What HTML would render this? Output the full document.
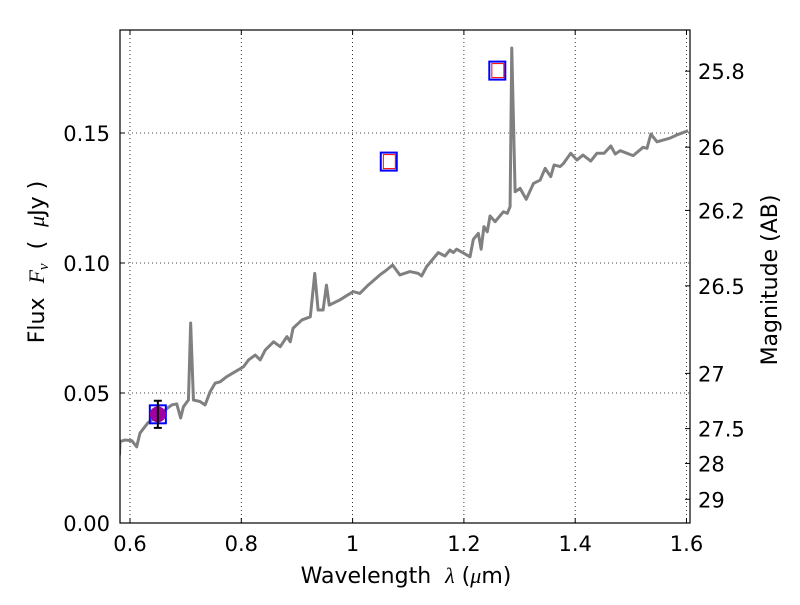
<!DOCTYPE html>
<html><head><meta charset="utf-8"><style>
body{margin:0;background:#fff;}
svg text{font-family:"DejaVu Sans","Liberation Sans",sans-serif;fill:#000;}
</style></head><body>
<svg id="chart" width="800" height="600" xmlns="http://www.w3.org/2000/svg">
<rect width="800" height="600" fill="#fff"/>
<defs><clipPath id="clip"><rect x="120" y="30" width="570" height="493"/></clipPath></defs>
<g id="grid"></g>
<g id="plot" clip-path="url(#clip)"></g>
<g id="axes"></g>
<text x="406" y="583" font-size="22" text-anchor="middle">Wavelength&#160;&#160;<tspan font-family="Liberation Serif" font-style="italic">λ</tspan> (<tspan font-family="Liberation Serif" font-style="italic">μ</tspan>m)</text>
<text transform="translate(44,262) rotate(-90)" font-size="22" text-anchor="middle">Flux&#160;&#160;<tspan font-family="Liberation Serif" font-style="italic">F<tspan font-size="15" dy="4">ν</tspan></tspan><tspan dy="-4">&#160;&#160;(&#160;&#160;</tspan><tspan font-family="Liberation Serif" font-style="italic">μ</tspan>Jy )</text>
<text transform="translate(777,280) rotate(-90)" font-size="22" text-anchor="middle">Magnitude (AB)</text>
</svg>
<script>
const wavelengths=[0.581,0.582,0.591,0.603,0.612,0.618,0.632,0.648,0.663,0.675,0.684,0.691,0.696,0.705,0.709,0.714,0.726,0.735,0.744,0.753,0.762,0.774,0.789,0.804,0.813,0.825,0.834,0.843,0.858,0.870,0.882,0.888,0.893,0.909,0.924,0.932,0.938,0.947,0.953,0.958,0.977,1.001,1.013,1.028,1.049,1.061,1.072,1.085,1.103,1.118,1.124,1.133,1.154,1.166,1.175,1.181,1.187,1.202,1.211,1.217,1.226,1.231,1.236,1.242,1.247,1.256,1.271,1.278,1.283,1.286,1.292,1.301,1.312,1.325,1.337,1.346,1.356,1.362,1.373,1.379,1.392,1.403,1.414,1.428,1.439,1.452,1.464,1.472,1.481,1.504,1.522,1.529,1.536,1.547,1.570,1.582,1.603];
const fluxes=[0.026,0.0313,0.0319,0.0317,0.0293,0.0346,0.0385,0.0409,0.0435,0.0454,0.0458,0.0404,0.0447,0.0473,0.0769,0.0473,0.0467,0.0454,0.0505,0.0538,0.0543,0.0563,0.0582,0.0601,0.0627,0.0646,0.0627,0.0665,0.0697,0.0678,0.0717,0.0697,0.0749,0.0781,0.0793,0.0960,0.0819,0.0819,0.0915,0.0838,0.0858,0.0890,0.0883,0.0915,0.0954,0.0973,0.0992,0.0954,0.0967,0.0960,0.0950,0.0986,0.1040,0.1027,0.1050,0.1040,0.1053,0.1035,0.1024,0.1091,0.1114,0.1053,0.1140,0.1120,0.1181,0.1159,0.1197,0.1191,0.1217,0.1827,0.1274,0.1287,0.1245,0.1306,0.1319,0.1364,0.1332,0.1377,0.1371,0.1383,0.1422,0.1396,0.1415,0.1392,0.1422,0.1422,0.1450,0.1419,0.1432,0.1413,0.1445,0.1441,0.1496,0.1466,0.1480,0.1492,0.1509];
const photLam=[0.65];const photFlux=[0.0418];const photErr=[0.0052];
const sqLam=[0.65,1.065,1.26];const sqFlux=[0.0418,0.139,0.174];
const redLam=[1.066,1.261];const redFlux=[0.139,0.174];
const xTicks=[0.6,0.8,1.0,1.2,1.4,1.6];const xTickLabels=["0.6","0.8","1","1.2","1.4","1.6"];
const yTicks=[0,0.05,0.10,0.15];const yTickLabels=["0.00","0.05","0.10","0.15"];
const magTicks=[25.8,26,26.2,26.5,27,27.5,28,29];const magLabels=["25.8","26","26.2","26.5","27","27.5","28","29"];
const L=120,R=690,T=30,B=523;
const xs=v=>130+(v-0.6)*556.5;
const ys=v=>B-v*2600;
const ns="http://www.w3.org/2000/svg";
function mk(p,t,a){const e=document.createElementNS(ns,t);for(const k in a)e.setAttribute(k,a[k]);p.appendChild(e);return e;}
const grid=document.getElementById('grid'),plot=document.getElementById('plot'),axes=document.getElementById('axes');
xTicks.forEach((v,i)=>{
 const g=mk(grid,'line',{x1:xs(v),x2:xs(v),y1:T,y2:B,stroke:'#000','stroke-width':0.8,'stroke-dasharray':'1,3'});
 
 
 mk(axes,'line',{x1:xs(v),x2:xs(v),y1:B,y2:B-5,stroke:'#000'});
 mk(axes,'line',{x1:xs(v),x2:xs(v),y1:T,y2:T+5,stroke:'#000'});
 const t=mk(axes,'text',{x:xs(v),y:B+28,'font-size':21,'text-anchor':'middle'});t.textContent=xTickLabels[i];
 
 
});
yTicks.forEach((v,i)=>{
 if(v>0){const g=mk(grid,'line',{x1:L,x2:R,y1:ys(v),y2:ys(v),stroke:'#000','stroke-width':0.8,'stroke-dasharray':'1,3'});
 
 }
 mk(axes,'line',{x1:L,x2:L+5,y1:ys(v),y2:ys(v),stroke:'#000'});
 const t=mk(axes,'text',{x:L-10,y:ys(v)+8,'font-size':21,'text-anchor':'end'});t.textContent=yTickLabels[i];
 
 
});
magTicks.forEach((m,i)=>{
 const f=Math.pow(10,(23.9-m)/2.5);const y=ys(f);
 mk(axes,'line',{x1:R,x2:R-5,y1:y,y2:y,stroke:'#000'});
 const t=mk(axes,'text',{x:R+8,y:y+8,'font-size':21});t.textContent=magLabels[i];
 
 
});
const line=mk(plot,'polyline',{points:wavelengths.map((w,i)=>xs(w)+','+ys(fluxes[i])).join(' '),fill:'none',stroke:'#808080','stroke-width':3,'stroke-linejoin':'round'});


sqLam.forEach((w,i)=>{
 const s=mk(plot,'rect',{x:xs(w)-8,y:ys(sqFlux[i])-9,width:16,height:18,fill:'none',stroke:'#0000ff','stroke-width':2});
 
 
});
photLam.forEach((w,i)=>{
 const c=mk(plot,'circle',{cx:xs(w),cy:ys(photFlux[i]),r:8,fill:'#a000a0'});
 
 
});
redLam.forEach((w,i)=>{
 const s=mk(plot,'rect',{x:xs(w)-6,y:ys(redFlux[i])-7,width:12,height:14,fill:'none',stroke:'#ff0000','stroke-width':1});
 
 
});
photLam.forEach((w,i)=>{
 const x=xs(w),y1=ys(photFlux[i]+photErr[i]),y2=ys(photFlux[i]-photErr[i]);
 const e=mk(plot,'path',{d:`M${x},${y1}V${y2}M${x-4},${y1}H${x+4}M${x-4},${y2}H${x+4}`,stroke:'#000','stroke-width':2,fill:'none'});
 
 
});
const fr=mk(axes,'rect',{x:L,y:T,width:R-L,height:B-T,fill:'none',stroke:'#000','stroke-width':1.2});


</script>
</body></html>
